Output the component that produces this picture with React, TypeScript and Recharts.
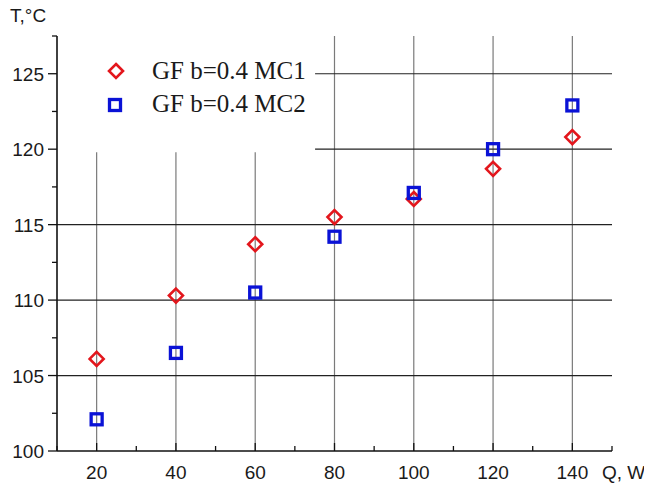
import React from 'react';
import { ScatterChart, Scatter, XAxis, YAxis, ReferenceLine, Legend, Label } from 'recharts';

const qValues = [20, 40, 60, 80, 100, 120, 140];
const tempMC1 = [106.1, 110.3, 113.7, 115.5, 116.7, 118.7, 120.8];
const tempMC2 = [102.1, 106.5, 110.5, 114.2, 117.1, 120.0, 122.9];
const seriesNames = ['GF b=0.4 MC1', 'GF b=0.4 MC2'];
const xTicks = [10, 20, 30, 40, 50, 60, 70, 80, 90, 100, 110, 120, 130, 140, 150];
const xMajorTicks = [20, 40, 60, 80, 100, 120, 140];
const yTicks = [100, 102.5, 105, 107.5, 110, 112.5, 115, 117.5, 120, 122.5, 125, 127.5];
const yMajorTicks = [105, 110, 115, 120, 125];
const xTitle = 'Q, W';
const yTitle = 'T,°C';

const mc1Data = qValues.map((q, i) => ({ q, t: tempMC1[i] }));
const mc2Data = qValues.map((q, i) => ({ q, t: tempMC2[i] }));

const RED = '#e3161c';
const BLUE = '#0a12d6';
const FONT = '"Liberation Sans", Arial, sans-serif';
const SERIF = '"Liberation Serif", "Times New Roman", serif';
const TICK_FS = 19;

// legend box extent (data units)
const boxRight = 75.1;
const boxBottom = 119.8;

const isXMajor = (v: number) => xMajorTicks.includes(v);
const isYMajor = (v: number) => v % 5 === 0;

const XBottomTick = (props: any) => {
  const { x, y, payload } = props;
  const v = payload.value;
  const major = isXMajor(v);
  return (
    <g>
      <line x1={x} x2={x} y1={y} y2={y - (major ? 8 : 5)} stroke="#111" strokeWidth={1.3} />
      {major && (
        <text x={x} y={y + 28} textAnchor="middle" fontFamily={FONT} fontSize={TICK_FS} fill="#1a1a1a">
          {v}
        </text>
      )}
    </g>
  );
};

const XTopTick = (props: any) => {
  const { x, y, payload } = props;
  const major = isXMajor(payload.value);
  return <line x1={x} x2={x} y1={y} y2={y + (major ? 7 : 4)} stroke="#111" strokeWidth={1.3} />;
};

const YLeftTick = (props: any) => {
  const { x, y, payload } = props;
  const v = payload.value;
  const major = isYMajor(v);
  return (
    <g>
      <line x1={x} x2={x - (major ? 9 : 5)} y1={y} y2={y} stroke="#111" strokeWidth={1.3} />
      {major && (
        <text x={x - 13} y={y + 7} textAnchor="end" fontFamily={FONT} fontSize={TICK_FS} fill="#1a1a1a">
          {v}
        </text>
      )}
    </g>
  );
};

const YRightTick = (props: any) => {
  const { x, y, payload } = props;
  const major = isYMajor(payload.value);
  return <line x1={x} x2={x - (major ? 7 : 4)} y1={y} y2={y} stroke="#111" strokeWidth={1.3} />;
};

const Diamond = (props: any) => {
  const { cx, cy } = props;
  const r = 7;
  return (
    <polygon
      points={`${cx},${cy - r} ${cx + r},${cy} ${cx},${cy + r} ${cx - r},${cy}`}
      fill="none"
      stroke={RED}
      strokeWidth={2.6}
    />
  );
};

const Square = (props: any) => {
  const { cx, cy } = props;
  const h = 5.5;
  return <rect x={cx - h} y={cy - h} width={2 * h} height={2 * h} fill="none" stroke={BLUE} strokeWidth={3.3} />;
};

const LegendContent = () => (
  <svg width={240} height={76} style={{ display: 'block' }}>
    <Diamond cx={16} cy={21} />
    <text x={52} y={29} fontFamily={SERIF} fontSize={25} fill="#1a1a1a">
      {seriesNames[0]}
    </text>
    <Square cx={15} cy={55} />
    <text x={52} y={62} fontFamily={SERIF} fontSize={25} fill="#1a1a1a">
      {seriesNames[1]}
    </text>
  </svg>
);

const YTitle = (props: any) => {
  const vb = props.viewBox || { x: 0, y: 36 };
  return (
    <text x={vb.x + 10} y={vb.y - 14} fontFamily={FONT} fontSize={TICK_FS} fill="#1a1a1a">
      {yTitle}
    </text>
  );
};

const XTitle = (props: any) => {
  const vb = props.viewBox || { x: 57, y: 451, width: 555 };
  return (
    <text x={vb.x + vb.width - 10} y={vb.y + 28} fontFamily={FONT} fontSize={TICK_FS} fill="#1a1a1a">
      {xTitle}
    </text>
  );
};

export default function App() {
  return (
    <div style={{ marginLeft: -8, marginTop: -8, width: 652, height: 488 }}>
      <ScatterChart width={652} height={488} margin={{ top: 36, right: 40, left: 0, bottom: 0 }}>
        <XAxis
          dataKey="q"
          type="number"
          domain={[10, 150]}
          ticks={xTicks}
          allowDataOverflow
          height={37}
          tickSize={0}
          tickMargin={0}
          tickLine={false}
          axisLine={{ stroke: '#111', strokeWidth: 1.6 }}
          tick={<XBottomTick />}
          interval={0}
        >
          <Label content={<XTitle />} />
        </XAxis>
        <XAxis
          xAxisId="top"
          orientation="top"
          type="number"
          domain={[10, 150]}
          ticks={xTicks}
          allowDataOverflow
          height={0}
          tickSize={0}
          tickMargin={0}
          tickLine={false}
          axisLine={{ stroke: '#111', strokeWidth: 1.6 }}
          tick={<XTopTick />}
          interval={0}
        />
        <YAxis
          dataKey="t"
          type="number"
          domain={[100, 127.5]}
          ticks={yTicks}
          allowDataOverflow
          width={57}
          tickSize={0}
          tickMargin={0}
          tickLine={false}
          axisLine={{ stroke: '#111', strokeWidth: 1.6 }}
          tick={<YLeftTick />}
          interval={0}
        >
          <Label content={<YTitle />} />
        </YAxis>
        <YAxis
          yAxisId="right"
          orientation="right"
          type="number"
          domain={[100, 127.5]}
          ticks={yTicks}
          allowDataOverflow
          width={0}
          tickSize={0}
          tickMargin={0}
          tickLine={false}
          axisLine={{ stroke: '#111', strokeWidth: 1.6 }}
          tick={<YRightTick />}
          interval={0}
        />
        {xMajorTicks.map((v) =>
          v < boxRight ? (
            <ReferenceLine
              key={'vx' + v}
              segment={[
                { x: v, y: 100 },
                { x: v, y: boxBottom },
              ]}
              stroke="#7a7a7a"
              strokeWidth={1.2}
            />
          ) : (
            <ReferenceLine key={'vx' + v} x={v} stroke="#7a7a7a" strokeWidth={1.2} />
          )
        )}
        {yMajorTicks.map((v) =>
          v > boxBottom ? (
            <ReferenceLine
              key={'hy' + v}
              segment={[
                { x: boxRight, y: v },
                { x: 150, y: v },
              ]}
              stroke="#222"
              strokeWidth={1.2}
            />
          ) : (
            <ReferenceLine key={'hy' + v} y={v} stroke="#222" strokeWidth={1.2} />
          )
        )}
        <Scatter name={seriesNames[0]} data={mc1Data} shape={<Diamond />} isAnimationActive={false} />
        <Scatter name={seriesNames[1]} data={mc2Data} shape={<Square />} isAnimationActive={false} />
        <Legend
          layout="horizontal"
          verticalAlign="middle"
          align="center"
          content={<LegendContent />}
          wrapperStyle={{ left: 100, top: 50, width: 240, height: 76 }}
        />
      </ScatterChart>
    </div>
  );
}
